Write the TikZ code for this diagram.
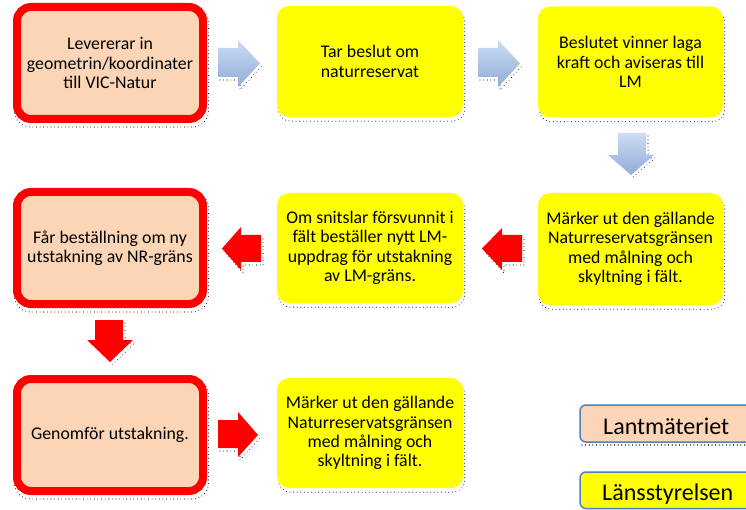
\documentclass[tikz,border=0pt]{standalone}
\usepackage{fontspec}
\setmainfont{Carlito}
\usetikzlibrary{backgrounds,calc}
\definecolor{salmon}{HTML}{FBD5B5}
\definecolor{yel}{HTML}{FFFF00}
\definecolor{redb}{HTML}{FF0000}
\definecolor{bluetop}{HTML}{CCDCF4}
\definecolor{bluebot}{HTML}{90ACD8}
\definecolor{legblue}{HTML}{4F81BD}
\begin{document}
\begin{tikzpicture}[x=1pt,y=-1pt,
  txt/.style={font=\fontsize{17.8}{19.3}\selectfont},
  lmbox/.style={txt, draw=redb, line width=8pt, fill=salmon, rounded corners=14pt,
    minimum width=186pt, minimum height=112pt, align=center, inner sep=0pt},
  lsbox/.style={txt, fill=yel, rounded corners=12pt,
    minimum width=186pt, minimum height=111pt, align=center, inner sep=0pt},
  shadowline/.style={draw=black!85, line width=1.1pt, dash pattern=on 0.01pt off 3.6pt, line cap=round},
  bluearrow/.style={top color=bluetop, bottom color=bluebot},
  redarrow/.style={fill=redb},
  legbox/.style={draw=legblue, line width=1.5pt, rounded corners=6pt},
  legtxt/.style={font=\fontsize{24}{28}\selectfont, anchor=base west, inner sep=0pt}]
\useasboundingbox (0,0) rectangle (746,510);

% boxes
\node[lmbox] (b1) at (110,63) {Levererar in\\geometrin/koordinater\\till VIC-Natur};
\node[lsbox] (b2) at (370,61.5) {Tar beslut om\\naturreservat};
\node[lsbox, minimum width=185pt] (b3) at (630.5,62) {Beslutet vinner laga\\kraft och aviseras till\\LM};
\node[lmbox] (b4) at (110,248) {Får beställning om ny\\utstakning av NR-gräns};
\node[lsbox, minimum height=110pt] (b5) at (370,248) {Om snitslar försvunnit i\\fält beställer nytt LM-\\uppdrag för utstakning\\av LM-gräns.};
\node[lsbox, minimum width=185pt, minimum height=112pt] (b6) at (630.5,249) {Märker ut den gällande\\Naturreservatsgränsen\\med målning och\\skyltning i fält.};
\node[lmbox] (b7) at (110,435) {Genomför utstakning.};
\node[lsbox, minimum height=110pt] (b8) at (370,433) {Märker ut den gällande\\Naturreservatsgränsen\\med målning och\\skyltning i fält.};

% shadows
\begin{scope}[on background layer]
  \foreach \b in {b1,b4,b7}{
    \draw[shadowline, rounded corners=16pt] ($(\b.north west)+(1.5,4)$) rectangle ($(\b.south east)+(1.5,4)$);
  }
  \foreach \b in {b2,b3,b5,b6,b8}{
    \draw[shadowline, rounded corners=12pt] ($(\b.north west)+(1.5,4)$) rectangle ($(\b.south east)+(1.5,4)$);
  }
  % arrow shadows
  \draw[shadowline] (220,80) -- (240,80) -- (240,90) -- (262,66);
  \draw[shadowline] (480,80) -- (500,80) -- (500,90) -- (522,66);
  \draw[shadowline] (648,136) -- (648,158) -- (655,158) -- (632,178);
  \draw[shadowline] (484,251) -- (504,273) -- (504,265) -- (524,265) -- (524,238);
  \draw[shadowline] (224,251) -- (243,273) -- (243,265) -- (263,265) -- (263,238);
  \draw[shadowline] (125,323) -- (125,343) -- (135,343) -- (112,365);
  \draw[shadowline] (220,451) -- (240,451) -- (240,460) -- (260,438);
  \draw[shadowline] (582,445) -- (746,445);
\end{scope}

% arrows
\shade[bluearrow] (218,48) -- (238,48) -- (238,40) -- (260,63.5) -- (238,87) -- (238,77) -- (218,77) -- cycle;
\shade[bluearrow] (478,48) -- (498,48) -- (498,40) -- (520,63.5) -- (498,87) -- (498,77) -- (478,77) -- cycle;
\shade[bluearrow] (618,133) -- (646,133) -- (646,155) -- (654,155) -- (631,175) -- (608,155) -- (618,155) -- cycle;
\fill[redarrow] (522,235) -- (502,235) -- (502,228) -- (482,248.5) -- (502,270) -- (502,262) -- (522,262) -- cycle;
\fill[redarrow] (261,235) -- (241,235) -- (241,227) -- (222,248.5) -- (241,270) -- (241,262) -- (261,262) -- cycle;
\fill[redarrow] (95,320) -- (123,320) -- (123,340) -- (133,340) -- (110,362) -- (87,340) -- (95,340) -- cycle;
\fill[redarrow] (218,420) -- (238,420) -- (238,412) -- (258,435) -- (238,457) -- (238,448) -- (218,448) -- cycle;

% legend
\begin{scope}
  \clip (0,0) rectangle (746,510);
  \draw[legbox, fill=salmon] (580,405) rectangle (770,442);
  \draw[legbox, fill=yel] (580,472) rectangle (770,508.5);
\end{scope}
\node[legtxt] (l1) at (603,434) {Lantmäteriet};
\node[legtxt] (l2) at (602,500) {Länsstyrelsen};
\end{tikzpicture}
\end{document}
